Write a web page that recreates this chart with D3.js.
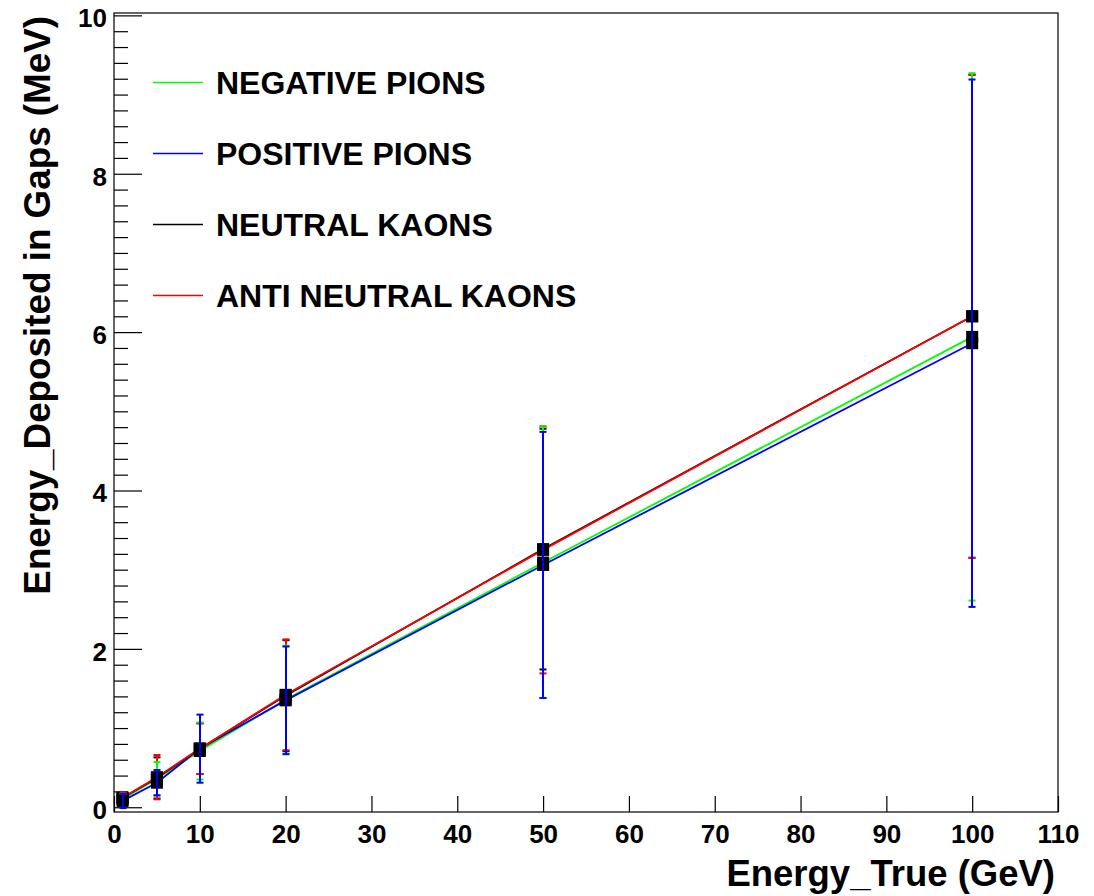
<!DOCTYPE html>
<html>
<head>
<meta charset="utf-8">
<script src="https://cdn.jsdelivr.net/npm/d3@7"></script>
<style>
  html, body { margin: 0; padding: 0; background: #fff; }
  svg { display: block; }
  text { font-family: "Liberation Sans", Arial, Helvetica, sans-serif; font-weight: bold; fill: #000; }
</style>
</head>
<body>
<svg id="chart" width="1094" height="896"></svg>
<script>
// Beam energy points (GeV)
const energies = [1, 5, 10, 20, 50, 100];

// Mean energy deposited in gaps (MeV) and its spread, per particle type
const negPionMean = [0.10, 0.36, 0.71, 1.36, 3.09, 5.94];
const negPionErr  = [0.07, 0.21, 0.36, 0.68, 1.71, 3.33];
const posPionMean = [0.08, 0.31, 0.74, 1.35, 3.06, 5.86];
const posPionErr  = [0.09, 0.16, 0.43, 0.68, 1.68, 3.33];
const kaonMean    = [0.12, 0.37, 0.74, 1.41, 3.26, 6.20];
const kaonErr     = [0.07, 0.26, 0.32, 0.70, 1.52, 3.05];
const antiKaonMean = [0.12, 0.38, 0.74, 1.42, 3.25, 6.20];
const antiKaonErr  = [0.07, 0.28, 0.32, 0.70, 1.56, 3.05];

const seriesNames = ["NEGATIVE PIONS", "POSITIVE PIONS", "NEUTRAL KAONS", "ANTI NEUTRAL KAONS"];
const seriesColors = ["#00ff00", "#0000ff", "#000000", "#ff0000"];

const xTicks = [0, 10, 20, 30, 40, 50, 60, 70, 80, 90, 100, 110];
const yTicks = [0, 2, 4, 6, 8, 10];

const series = [
  { name: seriesNames[0], color: seriesColors[0], mean: negPionMean, err: negPionErr },
  { name: seriesNames[1], color: seriesColors[1], mean: posPionMean, err: posPionErr },
  { name: seriesNames[2], color: seriesColors[2], mean: kaonMean, err: kaonErr },
  { name: seriesNames[3], color: seriesColors[3], mean: antiKaonMean, err: antiKaonErr }
].map(s => ({ ...s, pts: energies.map((e, i) => ({ x: e, y: s.mean[i], e: s.err[i] })) }));

const svg = d3.select("#chart");
const frame = { left: 114, right: 1058, top: 13, bottom: 812 };

const x = d3.scaleLinear().domain([0, 110]).range([frame.left, frame.right]);
const y = d3.scaleLinear().domain([-0.06, 10.03]).range([frame.bottom, frame.top]);
// whole-pixel x position so 2px vertical strokes cover exactly two columns
const xc = v => Math.round(x(v));

// Frame
svg.append("rect")
  .attr("x", frame.left).attr("y", frame.top)
  .attr("width", frame.right - frame.left).attr("height", frame.bottom - frame.top)
  .attr("fill", "none").attr("stroke", "#000").attr("stroke-width", 1.2);

// X axis: major ticks only
const xAxis = d3.axisBottom(x).tickValues(xTicks).tickSizeInner(-16).tickSizeOuter(0).tickPadding(0).tickFormat(d3.format("d"));
const gx = svg.append("g").attr("transform", `translate(0,${frame.bottom})`).call(xAxis);
gx.select(".domain").remove();
gx.selectAll(".tick line").attr("stroke", "#000").attr("stroke-width", 1.2);
gx.selectAll(".tick text").attr("font-size", 26).attr("dy", null).attr("y", 31);

// Y axis: major ticks every 2, minor every 0.2
const yMinor = d3.range(0, 10.001, 0.2).filter(v => Math.abs(v / 2 - Math.round(v / 2)) > 1e-6);
const gyMinor = svg.append("g").attr("transform", `translate(${frame.left},0)`)
  .call(d3.axisLeft(y).tickValues(yMinor).tickSizeInner(-14).tickSizeOuter(0).tickFormat(""));
gyMinor.select(".domain").remove();
gyMinor.selectAll(".tick line").attr("stroke", "#000").attr("stroke-width", 1.2);

const gy = svg.append("g").attr("transform", `translate(${frame.left},0)`)
  .call(d3.axisLeft(y).tickValues(yTicks).tickSizeInner(-28).tickSizeOuter(0).tickPadding(0).tickFormat(d3.format("d")));
gy.select(".domain").remove();
gy.selectAll(".tick line").attr("stroke", "#000").attr("stroke-width", 1.2);
gy.selectAll(".tick text").attr("font-size", 26).attr("x", -7).attr("dy", "0.36em").attr("y", 2);

// Axis titles
svg.append("text")
  .attr("x", 1055).attr("y", 886)
  .attr("text-anchor", "end").attr("font-size", 36.5)
  .text("Energy_True (GeV)");
svg.append("text")
  .attr("transform", "translate(50,16) rotate(-90)")
  .attr("text-anchor", "end").attr("font-size", 36.8)
  .text("Energy_Deposited in Gaps (MeV)");

// Connecting lines
const line = d3.line().x(d => x(d.x)).y(d => y(d.y));
[0, 1, 2, 3].forEach(i => {
  const s = series[i];
  svg.append("path").datum(s.pts)
    .attr("d", line).attr("fill", "none")
    .attr("stroke", s.color).attr("stroke-width", 1.8);
});

// Error bars and markers
const capHalf = 3.5;
const markerSize = 12;
[2, 3, 0, 1].forEach(i => {
  const s = series[i];
  const g = svg.append("g");
  g.selectAll("rect.m").data(s.pts).enter().append("rect")
    .attr("class", "m")
    .attr("x", d => x(d.x) - markerSize / 2)
    .attr("y", d => y(d.y) - markerSize / 2)
    .attr("width", markerSize).attr("height", markerSize)
    .attr("fill", "#000");
  g.selectAll("line.bar").data(s.pts).enter().append("line")
    .attr("class", "bar")
    .attr("x1", d => xc(d.x)).attr("x2", d => xc(d.x))
    .attr("y1", d => y(d.y - d.e)).attr("y2", d => y(d.y + d.e))
    .attr("stroke", s.color).attr("stroke-width", 2);
  ["lo", "hi"].forEach(k => {
    g.selectAll("line.cap" + k).data(s.pts).enter().append("line")
      .attr("class", "cap" + k)
      .attr("x1", d => xc(d.x) - capHalf).attr("x2", d => xc(d.x) + capHalf)
      .attr("y1", d => y(k === "lo" ? d.y - d.e : d.y + d.e))
      .attr("y2", d => y(k === "lo" ? d.y - d.e : d.y + d.e))
      .attr("stroke", s.color).attr("stroke-width", 2);
  });
});

// Legend
const legendTop = 81.5;
const legendStep = 71;
series.forEach((s, i) => {
  const ly = Math.round(legendTop + i * legendStep) + 0.5;
  svg.append("line")
    .attr("x1", 153).attr("x2", 203).attr("y1", ly).attr("y2", ly)
    .attr("stroke", s.color).attr("stroke-width", 1.4);
  svg.append("text")
    .attr("x", 216).attr("y", ly + 11.5)
    .attr("font-size", 32)
    .text(s.name);
});
</script>
</body>
</html>
